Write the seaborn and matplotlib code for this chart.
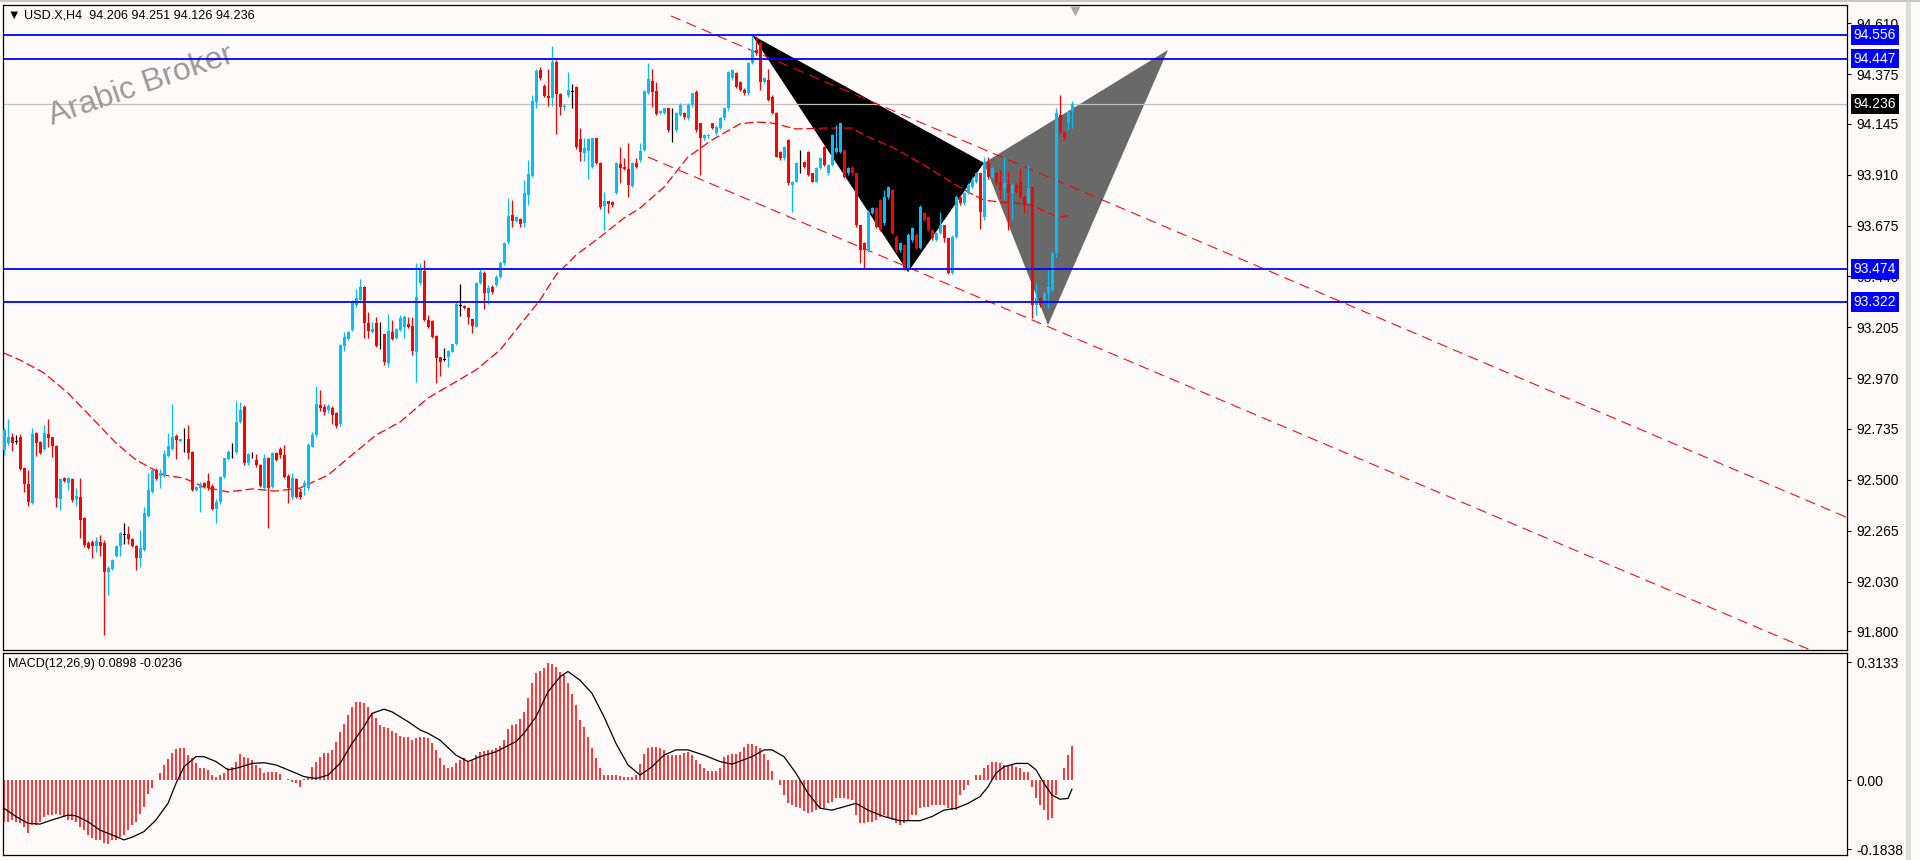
import numpy as np
import pandas as pd
import matplotlib
matplotlib.use('Agg')
import matplotlib.pyplot as plt
import matplotlib.transforms as mtrans
from matplotlib.patches import Polygon, Rectangle
import seaborn as sns

#-----------Candles (USD.X, H4), one row per bar-------------------
opens = [92.638, 92.668, 92.700, 92.675, 92.700, 92.553, 92.483, 92.394, 92.718, 92.675,
         92.642, 92.711, 92.700, 92.658, 92.411, 92.510, 92.487, 92.503, 92.411, 92.422,
         92.325, 92.210, 92.214, 92.196, 92.214, 92.210, 92.076, 92.088, 92.148, 92.196,
         92.245, 92.250, 92.226, 92.196, 92.140, 92.176, 92.333, 92.442, 92.545, 92.519,
         92.517, 92.610, 92.642, 92.704, 92.679, 92.696, 92.691, 92.630, 92.453, 92.460,
         92.484, 92.496, 92.471, 92.365, 92.399, 92.515, 92.595, 92.627, 92.627, 92.769,
         92.838, 92.576, 92.613, 92.592, 92.569, 92.461, 92.599, 92.468, 92.622, 92.641,
         92.615, 92.519, 92.422, 92.504, 92.442, 92.468, 92.461, 92.653, 92.707, 92.846,
         92.838, 92.823, 92.830, 92.807, 92.758, 93.120, 93.151, 93.193, 93.308, 93.331,
         93.390, 93.223, 93.185, 93.223, 93.168, 93.172, 93.041, 93.185, 93.154, 93.193,
         93.208, 93.220, 93.211, 93.092, 93.410, 93.467, 93.239, 93.234, 93.165, 93.069,
         93.054, 93.066, 93.092, 93.128, 93.305, 93.303, 93.296, 93.242, 93.208, 93.410,
         93.458, 93.365, 93.393, 93.400, 93.439, 93.501, 93.600, 93.724, 93.698, 93.705,
         93.688, 93.818, 93.906, 94.248, 94.394, 94.322, 94.275, 94.263, 94.433, 94.282,
         94.222, 94.279, 94.294, 94.314, 94.075, 94.012, 94.021, 93.947, 94.078, 93.966,
         93.767, 93.789, 93.786, 93.827, 93.958, 93.947, 93.935, 93.860, 93.966, 93.978,
         94.024, 94.290, 94.343, 94.297, 94.194, 94.194, 94.217, 94.125, 94.117, 94.186,
         94.194, 94.171, 94.232, 94.294, 94.148, 94.078, 94.087, 94.148, 94.102, 94.125,
         94.171, 94.217, 94.356, 94.379, 94.340, 94.302, 94.286, 94.425, 94.487, 94.518,
         94.340, 94.348, 94.271, 94.194, 94.017, 93.986, 94.071, 93.863, 93.878, 93.963,
         93.970, 94.017, 93.917, 93.878, 93.940, 94.040, 93.917, 93.955, 94.017, 94.017,
         94.025, 93.917, 93.940, 93.917, 93.678, 93.593, 93.562, 93.732, 93.755, 93.794,
         93.686, 93.809, 93.840, 93.624, 93.562, 93.585, 93.478, 93.609, 93.632, 93.570,
         93.732, 93.717, 93.655, 93.609, 93.640, 93.678, 93.616, 93.455, 93.624, 93.809,
         93.778, 93.824, 93.855, 93.878, 93.917, 93.716, 93.963, 93.901, 93.917, 93.878,
         93.847, 93.866, 93.824, 93.863, 93.878, 93.809, 93.778, 93.855, 93.308, 93.339,
         93.331, 93.362, 93.377, 93.547, 94.186, 94.109, 94.148, 94.206]
highs = [92.740, 92.780, 92.715, 92.707, 92.711, 92.560, 92.545, 92.738, 92.720, 92.680,
         92.753, 92.780, 92.700, 92.660, 92.510, 92.515, 92.515, 92.510, 92.460, 92.507,
         92.330, 92.215, 92.220, 92.237, 92.245, 92.220, 92.100, 92.135, 92.200, 92.260,
         92.300, 92.288, 92.230, 92.200, 92.268, 92.376, 92.530, 92.550, 92.553, 92.548,
         92.638, 92.715, 92.850, 92.710, 92.690, 92.738, 92.753, 92.635, 92.470, 92.490,
         92.490, 92.533, 92.480, 92.410, 92.520, 92.600, 92.640, 92.669, 92.866, 92.861,
         92.845, 92.625, 92.630, 92.620, 92.575, 92.620, 92.605, 92.630, 92.630, 92.650,
         92.660, 92.525, 92.530, 92.510, 92.460, 92.500, 92.670, 92.720, 92.934, 92.915,
         92.850, 92.850, 92.840, 92.815, 93.130, 93.185, 93.190, 93.331, 93.380, 93.427,
         93.395, 93.277, 93.228, 93.254, 93.228, 93.175, 93.265, 93.239, 93.200, 93.262,
         93.262, 93.254, 93.254, 93.504, 93.501, 93.516, 93.260, 93.240, 93.170, 93.070,
         93.108, 93.100, 93.130, 93.320, 93.405, 93.310, 93.300, 93.245, 93.415, 93.473,
         93.465, 93.400, 93.400, 93.445, 93.510, 93.600, 93.801, 93.793, 93.720, 93.710,
         93.885, 93.978, 94.279, 94.400, 94.406, 94.330, 94.397, 94.505, 94.440, 94.290,
         94.235, 94.385, 94.330, 94.320, 94.125, 94.080, 94.080, 94.080, 94.080, 93.970,
         93.832, 93.790, 93.790, 93.970, 94.037, 93.986, 94.055, 93.970, 93.989, 94.055,
         94.300, 94.425, 94.399, 94.340, 94.210, 94.220, 94.220, 94.217, 94.200, 94.240,
         94.200, 94.240, 94.290, 94.300, 94.150, 94.100, 94.100, 94.150, 94.140, 94.175,
         94.220, 94.390, 94.400, 94.385, 94.345, 94.310, 94.430, 94.556, 94.550, 94.530,
         94.360, 94.400, 94.280, 94.200, 94.020, 94.045, 94.075, 93.880, 93.970, 94.024,
         93.975, 94.020, 93.920, 93.945, 93.990, 94.045, 93.960, 94.100, 94.140, 94.150,
         94.030, 93.945, 93.950, 93.920, 93.680, 93.600, 93.745, 93.760, 93.760, 93.800,
         93.840, 93.860, 93.845, 93.630, 93.600, 93.590, 93.640, 93.670, 93.640, 93.770,
         93.740, 93.720, 93.660, 93.645, 93.740, 93.680, 93.620, 93.630, 93.815, 93.815,
         93.830, 93.870, 93.900, 93.920, 93.920, 93.994, 93.994, 93.945, 93.920, 93.930,
         93.994, 93.929, 93.870, 93.870, 93.940, 93.815, 93.955, 93.860, 93.408, 93.345,
         93.370, 93.470, 93.555, 94.217, 94.279, 94.110, 94.210, 94.251]
lows = [92.615, 92.660, 92.635, 92.665, 92.545, 92.445, 92.380, 92.390, 92.610, 92.620,
        92.640, 92.653, 92.607, 92.376, 92.360, 92.490, 92.453, 92.399, 92.380, 92.233,
        92.190, 92.180, 92.140, 92.168, 92.148, 91.783, 91.968, 92.085, 92.145, 92.148,
        92.202, 92.202, 92.190, 92.083, 92.099, 92.170, 92.330, 92.440, 92.500, 92.464,
        92.515, 92.605, 92.640, 92.595, 92.675, 92.630, 92.595, 92.450, 92.450, 92.353,
        92.460, 92.455, 92.360, 92.302, 92.390, 92.510, 92.590, 92.600, 92.620, 92.765,
        92.570, 92.570, 92.600, 92.560, 92.465, 92.455, 92.279, 92.460, 92.585, 92.600,
        92.510, 92.394, 92.410, 92.415, 92.410, 92.430, 92.455, 92.650, 92.700, 92.820,
        92.800, 92.810, 92.760, 92.740, 92.750, 93.097, 93.145, 93.190, 93.300, 93.325,
        93.154, 93.154, 93.180, 93.115, 93.106, 93.031, 93.023, 93.145, 93.150, 93.190,
        93.154, 93.200, 93.077, 92.954, 93.400, 93.235, 93.200, 93.155, 92.949, 92.981,
        93.051, 93.023, 93.090, 93.125, 93.259, 93.290, 93.220, 93.180, 93.205, 93.405,
        93.288, 93.313, 93.360, 93.395, 93.435, 93.495, 93.590, 93.670, 93.690, 93.670,
        93.670, 93.770, 93.900, 94.217, 94.350, 94.270, 94.229, 94.228, 94.098, 94.186,
        94.210, 94.270, 94.220, 94.030, 93.975, 93.975, 93.889, 93.940, 93.960, 93.750,
        93.655, 93.732, 93.760, 93.820, 93.870, 93.930, 93.809, 93.855, 93.940, 93.970,
        94.020, 94.285, 94.225, 94.185, 94.190, 94.190, 94.110, 94.063, 94.110, 94.180,
        94.170, 94.165, 94.225, 94.110, 93.909, 94.070, 94.080, 94.120, 94.095, 94.120,
        94.165, 94.210, 94.350, 94.310, 94.295, 94.280, 94.280, 94.420, 94.465, 94.300,
        94.335, 94.250, 94.190, 93.990, 93.980, 93.980, 93.865, 93.740, 93.875, 93.917,
        93.940, 93.905, 93.875, 93.875, 93.935, 93.950, 93.910, 93.950, 94.010, 94.010,
        93.895, 93.910, 93.910, 93.670, 93.500, 93.480, 93.555, 93.730, 93.665, 93.650,
        93.680, 93.800, 93.635, 93.555, 93.555, 93.470, 93.470, 93.600, 93.565, 93.565,
        93.695, 93.650, 93.610, 93.605, 93.635, 93.600, 93.450, 93.450, 93.620, 93.770,
        93.770, 93.820, 93.850, 93.870, 93.660, 93.700, 93.890, 93.895, 93.865, 93.800,
        93.793, 93.655, 93.701, 93.826, 93.800, 93.732, 93.775, 93.246, 93.262, 93.300,
        93.325, 93.293, 93.370, 93.531, 94.100, 94.071, 94.117, 94.126]
closes = [92.730, 92.700, 92.668, 92.675, 92.548, 92.483, 92.399, 92.711, 92.668, 92.625,
          92.718, 92.695, 92.658, 92.417, 92.503, 92.494, 92.510, 92.406, 92.425, 92.314,
          92.199, 92.186, 92.194, 92.217, 92.196, 92.076, 92.094, 92.130, 92.196, 92.253,
          92.245, 92.226, 92.194, 92.140, 92.186, 92.345, 92.453, 92.545, 92.502, 92.530,
          92.619, 92.656, 92.700, 92.684, 92.688, 92.696, 92.625, 92.453, 92.465, 92.480,
          92.468, 92.461, 92.365, 92.399, 92.515, 92.599, 92.630, 92.627, 92.769, 92.823,
          92.576, 92.619, 92.613, 92.569, 92.471, 92.599, 92.461, 92.622, 92.592, 92.615,
          92.515, 92.461, 92.507, 92.422, 92.422, 92.484, 92.661, 92.707, 92.850, 92.830,
          92.815, 92.841, 92.800, 92.750, 93.123, 93.159, 93.185, 93.323, 93.339, 93.393,
          93.226, 93.189, 93.197, 93.120, 93.168, 93.046, 93.188, 93.151, 93.197, 93.250,
          93.251, 93.205, 93.097, 93.347, 93.473, 93.239, 93.205, 93.162, 93.065, 93.046,
          93.054, 93.097, 93.128, 93.313, 93.305, 93.293, 93.251, 93.211, 93.410, 93.462,
          93.365, 93.385, 93.370, 93.439, 93.501, 93.593, 93.719, 93.698, 93.716, 93.682,
          93.824, 93.913, 94.251, 94.390, 94.359, 94.275, 94.263, 94.433, 94.282, 94.225,
          94.228, 94.302, 94.294, 94.040, 94.017, 94.032, 94.074, 94.078, 93.966, 93.762,
          93.789, 93.773, 93.770, 93.966, 93.940, 93.935, 93.863, 93.966, 93.947, 94.021,
          94.297, 94.351, 94.291, 94.191, 94.206, 94.217, 94.117, 94.125, 94.194, 94.232,
          94.179, 94.232, 94.286, 94.117, 94.078, 94.094, 94.094, 94.125, 94.132, 94.171,
          94.217, 94.387, 94.394, 94.317, 94.302, 94.286, 94.425, 94.487, 94.471, 94.340,
          94.356, 94.256, 94.194, 93.994, 93.986, 94.040, 93.870, 93.878, 93.963, 93.963,
          93.947, 93.909, 93.878, 93.940, 93.986, 93.955, 93.955, 94.094, 94.032, 94.148,
          93.901, 93.940, 93.917, 93.678, 93.562, 93.562, 93.740, 93.755, 93.670, 93.655,
          93.809, 93.855, 93.640, 93.562, 93.593, 93.478, 93.632, 93.663, 93.570, 93.763,
          93.701, 93.655, 93.616, 93.640, 93.678, 93.616, 93.455, 93.624, 93.809, 93.778,
          93.824, 93.863, 93.886, 93.917, 93.739, 93.963, 93.901, 93.940, 93.870, 93.840,
          93.870, 93.824, 93.863, 93.832, 93.809, 93.770, 93.847, 93.308, 93.339, 93.308,
          93.362, 93.393, 93.547, 94.194, 94.109, 94.086, 94.202, 94.236]

#-----------Moving average (red dashed curve, read at bar index)-----------
ma_idx = [0, 4, 10, 16, 22, 28, 33, 40, 45, 50, 56, 62, 68, 74, 81, 87, 93, 99, 106, 112,
          118, 124, 129, 134, 138, 143, 149, 155, 159, 165, 171, 177, 184, 188, 192, 198, 206, 212, 216, 222,
          230, 236, 241, 245, 249, 253, 257, 261, 264, 267]
ma_val = [93.086, 93.054, 92.994, 92.901, 92.786, 92.670, 92.592, 92.522, 92.508, 92.467,
          92.444, 92.458, 92.448, 92.462, 92.522, 92.615, 92.707, 92.767, 92.878, 92.943,
          93.008, 93.100, 93.216, 93.331, 93.447, 93.539, 93.622, 93.710, 93.756, 93.853,
          93.992, 94.071, 94.145, 94.154, 94.149, 94.122, 94.126, 94.126, 94.085, 94.038,
          93.955, 93.886, 93.830, 93.793, 93.784, 93.779, 93.770, 93.733, 93.715, 93.724]

#-----------Levels, channel, axis ticks-----------
levels = [94.556, 94.447, 93.474, 93.322]
last_price = 94.236
price_ticks = [94.610, 94.375, 94.145, 93.910, 93.675, 93.440, 93.205,
               92.970, 92.735, 92.500, 92.265, 92.030, 91.800]
upper_chan_x = [166.75, 461.0]
upper_chan_y = [94.644, 92.324]
lower_chan_x = [161.0, 461.0]
lower_chan_y = [93.992, 91.640]

#-----------Harmonic pattern (two triangles)-----------
xab_x = [187, 245, 226]
xab_y = [94.556, 93.965, 93.460]
bcd_x = [245, 291, 261]
bcd_y = [93.965, 94.487, 93.215]

#-----------MACD(12,26,9)-----------
macd_hist = [-0.111, -0.111, -0.106, -0.111, -0.115, -0.124, -0.140, -0.120, -0.120, -0.111,
             -0.097, -0.093, -0.093, -0.089, -0.093, -0.097, -0.106, -0.106, -0.111, -0.124,
             -0.133, -0.146, -0.155, -0.158, -0.159, -0.168, -0.170, -0.159, -0.159, -0.152,
             -0.146, -0.133, -0.120, -0.111, -0.089, -0.071, -0.037, -0.022, 0.000, 0.018,
             0.040, 0.056, 0.071, 0.081, 0.086, 0.086, 0.066, 0.058, 0.044, 0.031,
             0.031, 0.027, 0.013, 0.009, 0.013, 0.018, 0.031, 0.035, 0.049, 0.069,
             0.062, 0.058, 0.053, 0.040, 0.031, 0.018, 0.020, 0.020, 0.020, 0.016,
             0.001, 0.002, -0.004, -0.009, -0.018, 0.004, 0.009, 0.035, 0.049, 0.062,
             0.071, 0.071, 0.080, 0.102, 0.128, 0.150, 0.173, 0.195, 0.208, 0.208,
             0.204, 0.195, 0.177, 0.164, 0.146, 0.140, 0.137, 0.131, 0.124, 0.117,
             0.115, 0.115, 0.106, 0.111, 0.115, 0.115, 0.111, 0.097, 0.080, 0.058,
             0.040, 0.031, 0.035, 0.046, 0.053, 0.058, 0.049, 0.053, 0.066, 0.075,
             0.078, 0.080, 0.080, 0.084, 0.089, 0.106, 0.135, 0.146, 0.150, 0.162,
             0.181, 0.217, 0.257, 0.283, 0.290, 0.297, 0.310, 0.308, 0.301, 0.288,
             0.279, 0.257, 0.228, 0.199, 0.159, 0.142, 0.115, 0.084, 0.058, 0.031,
             0.013, 0.013, 0.013, 0.013, 0.011, 0.009, 0.007, 0.009, 0.013,
             0.042, 0.069, 0.084, 0.087, 0.087, 0.086, 0.080, 0.066, 0.066, 0.066,
             0.066, 0.071, 0.075, 0.066, 0.053, 0.042, 0.033, 0.024, 0.024, 0.024,
             0.033, 0.060, 0.066, 0.069, 0.069, 0.075, 0.087, 0.096, 0.096, 0.090,
             0.084, 0.069, 0.053, 0.024, 0.000, -0.013, -0.040, -0.062, -0.066, -0.071,
             -0.075, -0.081, -0.087, -0.084, -0.080, -0.075, -0.075, -0.062, -0.058, -0.049,
             -0.049, -0.049, -0.051, -0.053, -0.093, -0.113, -0.113, -0.111, -0.111, -0.106,
             -0.097, -0.093, -0.097, -0.106, -0.113, -0.120, -0.113, -0.106, -0.093, -0.093,
             -0.075, -0.071, -0.071, -0.066, -0.066, -0.066, -0.066, -0.075, -0.080, -0.080,
             -0.040, -0.027, -0.013, 0.000, 0.013, 0.013, 0.031, 0.040, 0.049, 0.049,
             0.044, 0.040, 0.040, 0.040, 0.035, 0.031, 0.022, 0.022, -0.018, -0.049,
             -0.066, -0.080, -0.106, -0.102, -0.040, 0.000, 0.031, 0.066, 0.0898]
sig_idx = [0, 3, 6, 9, 12, 16, 18, 21, 24, 28, 30, 32, 35, 38, 41, 43, 45, 48, 50, 53,
           56, 58, 62, 65, 68, 71, 75, 78, 81, 84, 87, 90, 92, 95, 97, 101, 104, 106, 109, 113,
           116, 119, 123, 128, 130, 133, 136, 139, 141, 144, 147, 150, 153, 156, 159, 162, 165, 168, 171, 175,
           179, 182, 187, 190, 192, 195, 198, 201, 204, 207, 210, 213, 216, 220, 224, 229, 232, 235, 238, 241,
           244, 246, 248, 250, 253, 256, 258, 260, 262, 264, 266, 267]
sig_val = [-0.075, -0.097, -0.115, -0.117, -0.106, -0.093, -0.095, -0.111, -0.133, -0.150,
           -0.159, -0.152, -0.137, -0.106, -0.062, -0.009, 0.035, 0.062, 0.062, 0.049,
           0.027, 0.031, 0.044, 0.046, 0.040, 0.027, 0.009, 0.004, 0.013, 0.044,
           0.097, 0.142, 0.177, 0.188, 0.181, 0.155, 0.133, 0.124, 0.106, 0.066,
           0.049, 0.062, 0.075, 0.102, 0.124, 0.168, 0.234, 0.274, 0.288, 0.265,
           0.230, 0.168, 0.097, 0.040, 0.013, 0.035, 0.066, 0.080, 0.080, 0.066,
           0.049, 0.042, 0.062, 0.080, 0.080, 0.062, 0.018, -0.035, -0.075, -0.080,
           -0.071, -0.062, -0.080, -0.097, -0.108, -0.108, -0.097, -0.080, -0.075, -0.062,
           -0.044, -0.018, 0.018, 0.035, 0.044, 0.044, 0.027, -0.009, -0.040, -0.051,
           -0.049, -0.024]
macd_ticks = [0.3133, 0.0, -0.1838]
macd_labels = ['0.3133', '0.00', '-0.1838']

#-----------Style-------------------
sns.set_style('white')
plt.rcParams['font.family'] = ['Liberation Sans', 'DejaVu Sans']
BG = '#FFFAFA'
BULL = '#00BFFF'
BEAR = '#FF0000'
LABEL_SIZE = 10

fig = plt.figure(figsize=(19.2, 8.6), dpi=100, facecolor=BG)
ax = fig.add_axes([3/1920, 1-650/860, 1844/1920, 645/860], facecolor=BG)
ax2 = fig.add_axes([3/1920, 1-855/860, 1844/1920, 202/860], facecolor=BG, sharex=ax)

#-----------Price panel-------------------
df = pd.DataFrame({'open': opens, 'high': highs, 'low': lows, 'close': closes})
df['idx'] = np.arange(len(df))
df['color'] = np.where(df['close'] > df['open'], BULL,
                       np.where(df['close'] < df['open'], BEAR, 'black'))

# pattern triangles sit behind everything else
ax.add_patch(Polygon(list(zip(xab_x, xab_y)), closed=True, fc='black', ec='none', zorder=1))
ax.add_patch(Polygon(list(zip(bcd_x, bcd_y)), closed=True, fc='#696969', ec='none', zorder=1))

ax.axhline(last_price, color='#C0C0C0', lw=0.9, zorder=1.5)

ax.plot(upper_chan_x, upper_chan_y, color='red', lw=0.75, dashes=(10, 6), zorder=2)
ax.plot(lower_chan_x, lower_chan_y, color='red', lw=0.75, dashes=(10, 6), zorder=2)
sns.lineplot(x=ma_idx, y=ma_val, ax=ax, color='red', linewidth=0.9,
             linestyle=(0, (7, 3)), estimator=None, sort=False, zorder=2)

ax.vlines(df['idx'], df['low'], df['high'], colors=df['color'], lw=0.9, zorder=3)
body_lo = df[['open', 'close']].min(axis=1)
body_h = (df['close'] - df['open']).abs().clip(lower=0.003)
ax.bar(df['idx'], body_h, bottom=body_lo, width=0.75, color=df['color'], lw=0, zorder=3)

for lv in levels:
    ax.axhline(lv, color='#0000FF', lw=1.3, zorder=4)

ax.set_xlim(-0.25, 460.75)
ax.set_ylim(91.7135, 94.6947)
ax.set_xticks([])
ax.set_yticks(price_ticks)
ax.set_yticklabels([f'{t:.3f}' for t in price_ticks])
ax.tick_params(axis='y', left=False, labelleft=False, right=True, labelright=True,
               direction='out', length=3, width=0.8, pad=4, labelsize=LABEL_SIZE, colors='black')
for s in ax.spines.values():
    s.set_visible(True)
    s.set_color('black')
    s.set_linewidth(0.9)

blend = mtrans.blended_transform_factory(ax.transAxes, ax.transData)
for lv in levels:
    ax.text(1.0035, lv, f'{lv:.3f}', transform=blend, color='white', fontsize=LABEL_SIZE,
            va='center', ha='left', zorder=10, clip_on=False,
            bbox=dict(boxstyle='square,pad=0.2', fc='#0000FF', ec='none'))
ax.text(1.0035, last_price, f'{last_price:.3f}', transform=blend, color='white', fontsize=LABEL_SIZE,
        va='center', ha='left', zorder=10, clip_on=False,
        bbox=dict(boxstyle='square,pad=0.2', fc='black', ec='none'))

ax.text(0.0027, 0.983, '\u25bc USD.X,H4  94.206 94.251 94.126 94.236', transform=ax.transAxes,
        fontsize=9.1, va='center', ha='left', color='black')
ax.text(0.0748, 0.874, 'Arabic Broker', transform=ax.transAxes, fontsize=23, rotation=19,
        ha='center', va='center', color='#9A9A9A', rotation_mode='anchor')

# chart-shift marker at the top, just past the last bar
top_blend = mtrans.blended_transform_factory(ax.transData, ax.transAxes)
ax.plot([len(df) - 0.3], [0.991], marker='v', ms=7, color='#A9A9A9', mec='none',
        transform=top_blend, clip_on=False, zorder=6)

#-----------MACD panel-------------------
ax2.vlines(np.arange(len(macd_hist)), 0, macd_hist, colors='red', lw=1.1, zorder=2)
sns.lineplot(x=sig_idx, y=sig_val, ax=ax2, color='black', linewidth=0.9,
             estimator=None, sort=False, zorder=3)
ax2.set_ylim(-0.1991, 0.3372)
ax2.set_xlim(-0.25, 460.75)
ax2.set_xticks([])
ax2.set_yticks(macd_ticks)
ax2.set_yticklabels(macd_labels)
ax2.tick_params(axis='y', left=False, labelleft=False, right=True, labelright=True,
                direction='out', length=3, width=0.8, pad=4, labelsize=LABEL_SIZE, colors='black')
ax2.tick_params(axis='x', bottom=False, labelbottom=False)
for s in ax2.spines.values():
    s.set_visible(True)
    s.set_color('black')
    s.set_linewidth(0.9)
ax2.text(0.0027, 0.945, 'MACD(12,26,9) 0.0898 -0.0236', transform=ax2.transAxes,
         fontsize=9.0, va='center', ha='left', color='black')

# window frame bits
fig.patches.append(Rectangle((1906/1920, 0), 5/1920, 1, transform=fig.transFigure,
                             fc='#DCDCDC', ec='none'))
fig.patches.append(Rectangle((0, 1-2/860), 1, 2/860, transform=fig.transFigure,
                             fc='#C8C8C8', ec='none'))

fig.savefig('out.png', dpi=100, facecolor=BG)
